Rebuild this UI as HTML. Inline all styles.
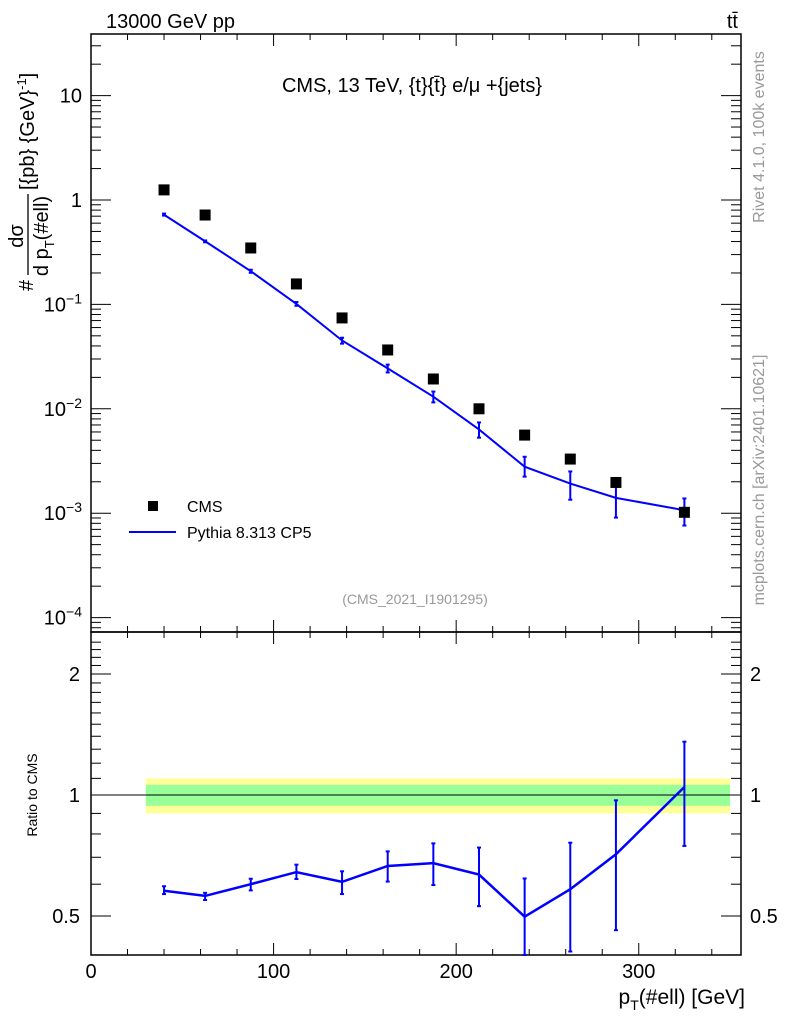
<!DOCTYPE html>
<html><head><meta charset="utf-8"><style>
html,body{margin:0;padding:0;background:#fff;}
svg{display:block;font-family:"Liberation Sans",sans-serif;}
</style></head><body>
<svg id="chart" width="786" height="1024" viewBox="0 0 786 1024" xmlns="http://www.w3.org/2000/svg">
<g id="bands"></g>
<g id="axes"></g>
<g id="series"></g>
<text x="106" y="28" font-size="20">13000 GeV pp</text>
<text x="738" y="28" font-size="20" text-anchor="end">tt̄</text>
<text x="412" y="92" font-size="20" text-anchor="middle">CMS, 13 TeV, {t}{t̄} e/μ +{jets}</text>
<text x="415" y="604" font-size="14" fill="#999" text-anchor="middle">(CMS_2021_I1901295)</text>
<text transform="translate(764,137) rotate(-90)" font-size="16" fill="#999" text-anchor="middle">Rivet 4.1.0,  100k events</text>
<text transform="translate(764,480) rotate(-90)" font-size="16" fill="#999" text-anchor="middle">mcplots.cern.ch [arXiv:2401.10621]</text>
<g transform="rotate(-90)">
 <text x="-291" y="33" font-size="20">#</text>
 <text x="-236" y="23" font-size="20" text-anchor="middle">dσ</text>
 <line x1="-275" y1="28" x2="-194" y2="28" stroke="#000" stroke-width="1.3"/>
 <text x="-236" y="48" font-size="20" text-anchor="middle">d p<tspan font-size="13" dy="6">T</tspan><tspan dy="-6">(#ell)</tspan></text>
 <text x="-190" y="34" font-size="20">[{pb} {GeV}<tspan font-size="13" dy="-8">-1</tspan><tspan dy="8">]</tspan></text>
</g>
<text transform="translate(37,795) rotate(-90)" font-size="14" text-anchor="middle">Ratio to CMS</text>
<text x="745" y="1004" font-size="21" text-anchor="end">p<tspan font-size="14" dy="6">T</tspan><tspan dy="-6">(#ell) [GeV]</tspan></text>
<g id="legend">
 <rect x="148" y="501" width="10" height="10" fill="#000"/>
 <text x="187" y="512" font-size="16">CMS</text>
 <line x1="129" y1="532" x2="176" y2="532" stroke="#0000ff" stroke-width="2"/>
 <text x="187" y="538" font-size="16">Pythia 8.313 CP5</text>
</g>
</svg>
<script>
const xs = [40, 62.5, 87.5, 112.5, 137.5, 162.5, 187.5, 212.5, 237.5, 262.5, 287.5, 325];
const cmsVals = [1.25, 0.718, 0.347, 0.157, 0.0742, 0.0366, 0.0193, 0.0100, 0.0056, 0.0033, 0.00197, 0.00102];
const ratioVals = [0.578, 0.561, 0.600, 0.643, 0.608, 0.666, 0.677, 0.634, 0.498, 0.583, 0.712, 1.047];
const ratioLo = [0.567, 0.548, 0.579, 0.618, 0.567, 0.609, 0.597, 0.529, 0.40, 0.408, 0.461, 0.747];
const ratioHi = [0.593, 0.571, 0.619, 0.671, 0.646, 0.724, 0.758, 0.740, 0.620, 0.761, 0.970, 1.357];
const bandEdges = [30, 350];
const greenBand = [0.94, 1.06];
const yellowBand = [0.90, 1.10];
const xTicks = [0, 100, 200, 300];
const mainTicks = [10, 1, 0.1, 0.01, 0.001, 0.0001];
const mainTickLabels = ["10", "1", "10^-1", "10^-2", "10^-3", "10^-4"];
const ratioTicks = [0.5, 1, 2];
const ratioTickLabels = ["0.5", "1", "2"];

const NS = "http://www.w3.org/2000/svg";
const L = 91, R = 741, MT = 34, MB = 632, RT = 632, RB = 955;
const X = v => L + (v - 0) * (R - L) / 356;
const Ym = v => 200 - Math.log10(v) * 104.4;
const Yr = v => 795 - Math.log10(v) * 402;
function mk(tag, attrs, parent) {
  const e = document.createElementNS(NS, tag);
  for (const k in attrs) e.setAttribute(k, attrs[k]);
  parent.appendChild(e);
  return e;
}
const axes = document.getElementById('axes');
const bands = document.getElementById('bands');
const series = document.getElementById('series');

let yb = mk('rect', {x: X(bandEdges[0]), y: Yr(yellowBand[1]), width: X(bandEdges[1]) - X(bandEdges[0]), height: Yr(yellowBand[0]) - Yr(yellowBand[1]), fill: '#ffff99'}, bands);


let gb = mk('rect', {x: X(bandEdges[0]), y: Yr(greenBand[1]), width: X(bandEdges[1]) - X(bandEdges[0]), height: Yr(greenBand[0]) - Yr(greenBand[1]), fill: '#99ff99'}, bands);



const f1 = mk('rect', {x: L, y: MT, width: R - L, height: MB - MT, fill: 'none', stroke: '#000', 'stroke-width': 1.5}, axes);


const f2 = mk('rect', {x: L, y: RT, width: R - L, height: RB - RT, fill: 'none', stroke: '#000', 'stroke-width': 1.5}, axes);


const one = mk('line', {x1: L, x2: R, y1: Yr(1), y2: Yr(1), stroke: '#000', 'stroke-width': 1}, axes);



for (let v = 0; v <= 350; v += 20) {
  const major = v % 100 === 0;
  const len = major ? 12 : 6;
  const xx = X(v);
  for (const [t, b] of [[MT, MB], [RT, RB]]) {
    mk('line', {x1: xx, x2: xx, y1: t, y2: t + len, stroke: '#000'}, axes);
    mk('line', {x1: xx, x2: xx, y1: b, y2: b - len, stroke: '#000'}, axes);
  }
}
xTicks.forEach(v => {
  const t = mk('text', {x: X(v), y: 978, 'font-size': 20, 'text-anchor': 'middle'}, axes);
  t.textContent = v;
  
  
});

for (let d = -5; d <= 1; d++) {
  for (let m = 1; m <= 9; m++) {
    const v = m * Math.pow(10, d);
    const y = Ym(v);
    if (y < MT || y > MB) continue;
    const len = m === 1 ? 20 : 10;
    mk('line', {x1: L, x2: L + len, y1: y, y2: y, stroke: '#000'}, axes);
    mk('line', {x1: R, x2: R - len, y1: y, y2: y, stroke: '#000'}, axes);
  }
}
mainTicks.forEach((v, i) => {
  const t = mk('text', {x: 82, y: Ym(v) + 7, 'font-size': 20, 'text-anchor': 'end'}, axes);
  const lab = mainTickLabels[i];
  if (lab.includes('^')) {
    const [b, e] = lab.split('^');
    t.textContent = b;
    const ts = mk('tspan', {dy: -8, 'font-size': 14}, t);
    ts.textContent = e.replace('-', '−');
  } else t.textContent = lab;
  
  
});

for (let v = 0.4; v <= 2.5; v += 0.1) {
  const y = Yr(v);
  if (y < RT || y > RB) continue;
  const major = Math.abs(v - 0.5) < 1e-6 || Math.abs(v - 1) < 1e-6 || Math.abs(v - 2) < 1e-6;
  const len = major ? 20 : 10;
  mk('line', {x1: L, x2: L + len, y1: y, y2: y, stroke: '#000'}, axes);
  mk('line', {x1: R, x2: R - len, y1: y, y2: y, stroke: '#000'}, axes);
}
ratioTicks.forEach((v, i) => {
  const t = mk('text', {x: 80, y: Yr(v) + 7, 'font-size': 20, 'text-anchor': 'end'}, axes);
  t.textContent = ratioTickLabels[i];
  
  
  const t2 = mk('text', {x: 750, y: Yr(v) + 7, 'font-size': 20}, axes);
  t2.textContent = ratioTickLabels[i];
  
  
});

const mcVals = cmsVals.map((c, i) => c * ratioVals[i]);
const mp = mk('polyline', {points: xs.map((x, i) => X(x) + ',' + Ym(mcVals[i])).join(' '), fill: 'none', stroke: '#0000ff', 'stroke-width': 2}, series);


xs.forEach((x, i) => {
  const y1 = Ym(cmsVals[i] * ratioLo[i]), y2 = Ym(cmsVals[i] * ratioHi[i]);
  const g = mk('g', {stroke: '#0000ff', 'stroke-width': 2}, series);
  
  
  mk('line', {x1: X(x), x2: X(x), y1: y1, y2: y2}, g);
  mk('line', {x1: X(x) - 2, x2: X(x) + 2, y1: y1, y2: y1}, g);
  mk('line', {x1: X(x) - 2, x2: X(x) + 2, y1: y2, y2: y2}, g);
});
xs.forEach((x, i) => {
  const r = mk('rect', {x: X(x) - 5.5, y: Ym(cmsVals[i]) - 5.5, width: 11, height: 11, fill: '#000'}, series);
  
  
});

const clipY = v => Math.min(RB, Math.max(RT, v));
const rp = mk('polyline', {points: xs.map((x, i) => X(x) + ',' + Yr(ratioVals[i])).join(' '), fill: 'none', stroke: '#0000ff', 'stroke-width': 2.5}, series);


xs.forEach((x, i) => {
  const y1 = clipY(Yr(ratioLo[i])), y2 = clipY(Yr(ratioHi[i]));
  const g = mk('g', {stroke: '#0000ff', 'stroke-width': 2}, series);
  
  
  mk('line', {x1: X(x), x2: X(x), y1: y1, y2: y2}, g);
  if (y1 < RB) mk('line', {x1: X(x) - 2, x2: X(x) + 2, y1: y1, y2: y1}, g);
  mk('line', {x1: X(x) - 2, x2: X(x) + 2, y1: y2, y2: y2}, g);
});
</script>
</body></html>
